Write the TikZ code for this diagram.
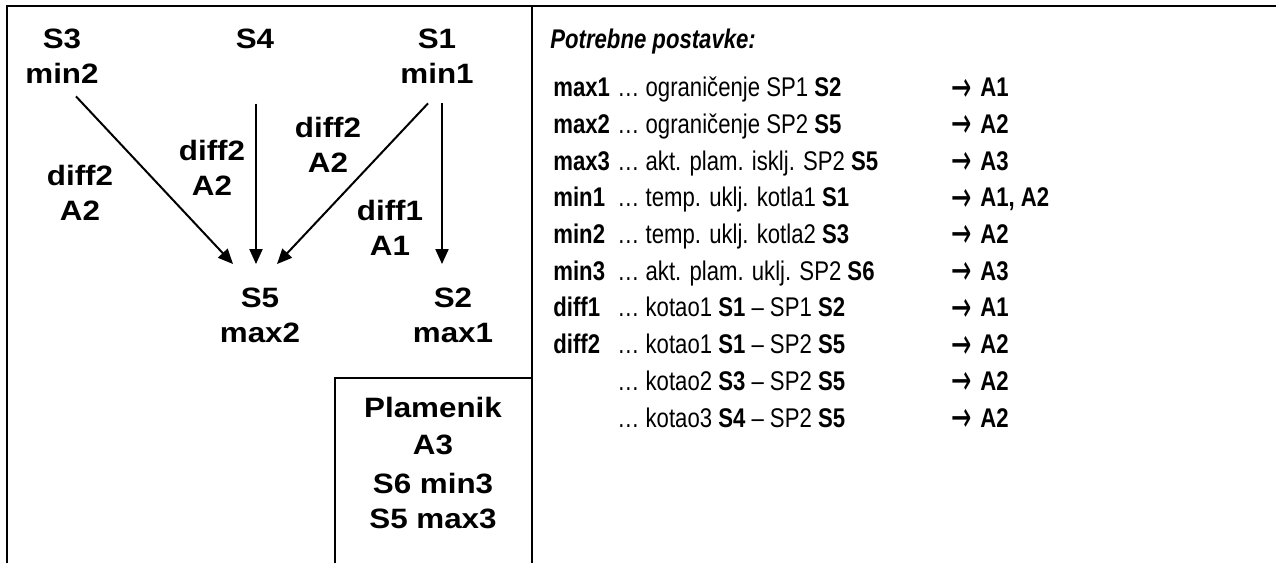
\documentclass[tikz,border=0pt]{standalone}
\usepackage{fontspec}
\setmainfont{Liberation Sans}
\newfontfamily\widefont{Liberation Sans}[FakeStretch=1.12]
\newfontfamily\narrowfont{Liberation Sans}[FakeStretch=0.82]
\newfontfamily\symfont{DejaVu Sans}
\usetikzlibrary{arrows.meta,calc}
\newcommand{\toA}{\raisebox{-2.2pt}{\scalebox{0.9}[1.55]{\symfont →}}}
\tikzset{
  sig/.style={align=center, inner sep=0pt, anchor=base, font=\widefont\bfseries\fontsize{14}{17.5}\selectfont},
  lbl/.style={inner sep=0pt, anchor=base west, font=\narrowfont\fontsize{13.5}{18}\selectfont},
  frame/.style={line width=1.1pt, color=black},
  arr/.style={-{Triangle[length=7.5pt,width=6.5pt]}, line width=1pt},
}
\begin{document}
\begin{tikzpicture}[x=0.5pt, y=-0.5pt, key/.style={lbl, font=\narrowfont\bfseries\fontsize{13.5}{18}\selectfont}]
      \useasboundingbox (0,0) rectangle (1276,563);
      \draw[frame] (7,563) -- (7,6) -- (1276,6);
      \draw[frame] (532,6) -- (532,563);
      \draw[frame] (335,563) -- (335,378) -- (532,378);
      \node[sig] (s3) at (62,83) {S3\\min2};
      \node[sig] (s4) at (255,48) {S4};
      \node[sig] (s1) at (437,83) {S1\\min1};
      \node[sig] (s5) at (260,342) {S5\\max2};
      \node[sig] (s2) at (453,342) {S2\\max1};
      \node[sig] (d35) at (80,220) {diff2\\A2};
      \node[sig] (d45) at (212,195) {diff2\\A2};
      \node[sig] (d15) at (328,172) {diff2\\A2};
      \node[sig] (d12) at (390,255) {diff1\\A1};
      \node[sig] (plam) at (433,528) {Plamenik\\[1pt]A3\\[2pt]S6 min3\\S5 max3};
      \draw[arr] ([shift={(14,13)}]s3.south) -- ([shift={(-27,-23)}]s5.north);
      \draw[arr] ([shift={(1,55)}]s4.south) -- ([shift={(-4,-23)}]s5.north);
      \draw[arr] ([shift={(-9,20)}]s1.south) -- ([shift={(17,-23)}]s5.north);
      \draw[arr] ([shift={(5,20)}]s1.south) -- ([shift={(-11,-23)}]s2.north);
      \node[key, font=\narrowfont\bfseries\itshape\fontsize{13.5}{18}\selectfont] (title) at (550,48) {Potrebne postavke:};
      \foreach \k/\t/\r [count=\i from 0] in {max1/{ograničenje SP1 \textbf{S2}}/A1, max2/{ograničenje SP2 \textbf{S5}}/A2, max3/{akt. plam. isklj. SP2 \textbf{S5}}/A3, min1/{temp. uklj. kotla1 \textbf{S1}}/{A1, A2}, min2/{temp. uklj. kotla2 \textbf{S3}}/A2, min3/{akt. plam. uklj. SP2 \textbf{S6}}/A3, diff1/{kotao1 \textbf{S1} – SP1 \textbf{S2}}/A1, diff2/{kotao1 \textbf{S1} – SP2 \textbf{S5}}/A2, {}/{kotao2 \textbf{S3} – SP2 \textbf{S5}}/A2, {}/{kotao3 \textbf{S4} – SP2 \textbf{S5}}/A2} {
        \node[key] (k\i) at (553,96.7+36.7*\i) {\k};
        \node[lbl] (t\i) at (617,96.7+36.7*\i) {… \t};
        \node[lbl] (a\i) at (951,96.7+36.7*\i) {\toA};
        \node[key] (r\i) at (980,96.7+36.7*\i) {\r};
      }
    \end{tikzpicture}
\end{document}
